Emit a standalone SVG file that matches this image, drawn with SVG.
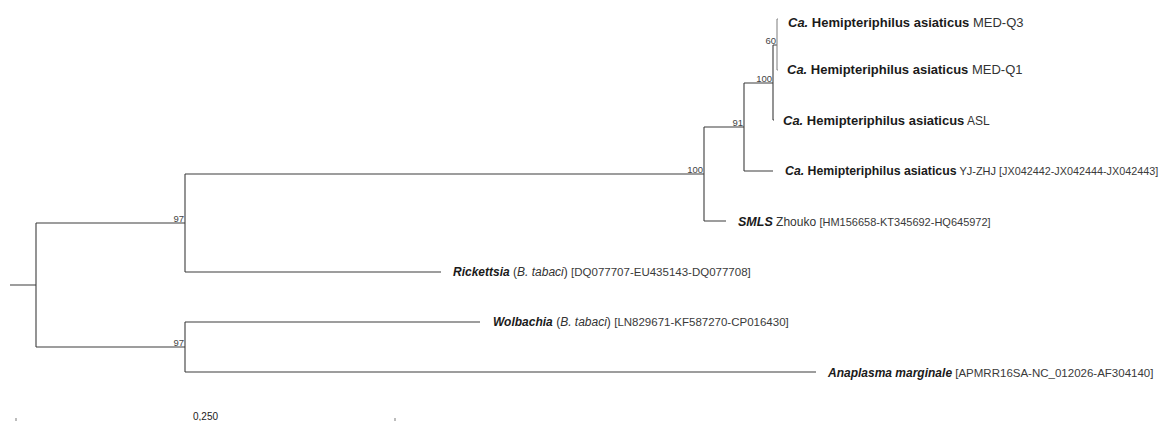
<svg xmlns="http://www.w3.org/2000/svg" width="1170" height="421" viewBox="0 0 1170 421">
<style>
text{font-family:"Liberation Sans",Arial,sans-serif;fill:#1a1a1a}
.bi{font-weight:bold;font-style:italic}
.b{font-weight:bold}
.r{fill:#333}
.i{font-style:italic}
.acc{fill:#3a3a3a}
.bs{font-size:9.5px;fill:#444;text-anchor:end}
.br{stroke:#3c3c3c;stroke-width:1.1;fill:none}
.lt{stroke:#888;stroke-width:1.1;fill:none}
</style>
<rect width="1170" height="421" fill="#fff"/>
<g id="connectors">
<path class="br" d="M10,285H36M36,223V347M36,223H185M185,174V272M185,174H704M704,127V221M704,127H744M744,83V171M744,83H773M773,45V120M773,45H777M773,120H774M744,171H773M704,221H726M185,272H441M36,347H185M185,322V372M185,322H480M185,372H816"/>
<path class="lt" d="M777,19V70M777,19H778M777,70H778"/>
</g>
<g id="node-60"><text class="bs" x="776" y="44">60</text></g>
<g id="node-100a"><text class="bs" x="772" y="82">100</text></g>
<g id="node-91"><text class="bs" x="743" y="126">91</text></g>
<g id="node-100b"><text class="bs" x="703" y="173">100</text></g>
<g id="node-97a"><text class="bs" x="184" y="221.5">97</text></g>
<g id="node-97b"><text class="bs" x="184" y="346">97</text></g>
<g id="leaf-med-q3"><text x="788" y="27" font-size="13"><tspan class="bi">Ca.</tspan><tspan class="b"> Hemipteriphilus asiaticus</tspan><tspan class="r"> MED-Q3</tspan></text></g>
<g id="leaf-med-q1"><text x="787" y="74" font-size="13"><tspan class="bi">Ca.</tspan><tspan class="b"> Hemipteriphilus asiaticus</tspan><tspan class="r"> MED-Q1</tspan></text></g>
<g id="leaf-asl"><text x="783" y="125" font-size="13"><tspan class="bi">Ca.</tspan><tspan class="b"> Hemipteriphilus asiaticus</tspan><tspan class="r" font-size="12"> ASL</tspan></text></g>
<g id="leaf-yj-zhj"><text x="785" y="175" font-size="12.3"><tspan class="bi">Ca.</tspan><tspan class="b"> Hemipteriphilus asiaticus</tspan><tspan class="r" font-size="11"> YJ-ZHJ </tspan><tspan class="acc" font-size="10.8">[JX042442-JX042444-JX042443]</tspan></text></g>
<g id="leaf-smls"><text x="738" y="226" font-size="12.5"><tspan class="bi">SMLS</tspan><tspan class="r" font-size="12"> Zhouko </tspan><tspan class="acc" font-size="11">[HM156658-KT345692-HQ645972]</tspan></text></g>
<g id="leaf-rickettsia"><text x="453" y="275.5" font-size="12"><tspan class="bi">Rickettsia</tspan><tspan class="r"> (</tspan><tspan class="r i">B. tabaci</tspan><tspan class="r">) </tspan><tspan class="acc" font-size="11.5">[DQ077707-EU435143-DQ077708]</tspan></text></g>
<g id="leaf-wolbachia"><text x="493" y="326" font-size="12"><tspan class="bi">Wolbachia</tspan><tspan class="r"> (</tspan><tspan class="r i">B. tabaci</tspan><tspan class="r">) </tspan><tspan class="acc" font-size="11.5">[LN829671-KF587270-CP016430]</tspan></text></g>
<g id="leaf-anaplasma"><text x="828" y="376.5" font-size="12"><tspan class="bi">Anaplasma marginale</tspan><tspan class="acc" font-size="11.5"> [APMRR16SA-NC_012026-AF304140]</tspan></text></g>
<g id="scale-bar">
<path class="lt" d="M16,418V421M395,418V421"/>
<text x="205.5" y="420" font-size="10" text-anchor="middle" fill="#333">0,250</text>
</g>
</svg>
